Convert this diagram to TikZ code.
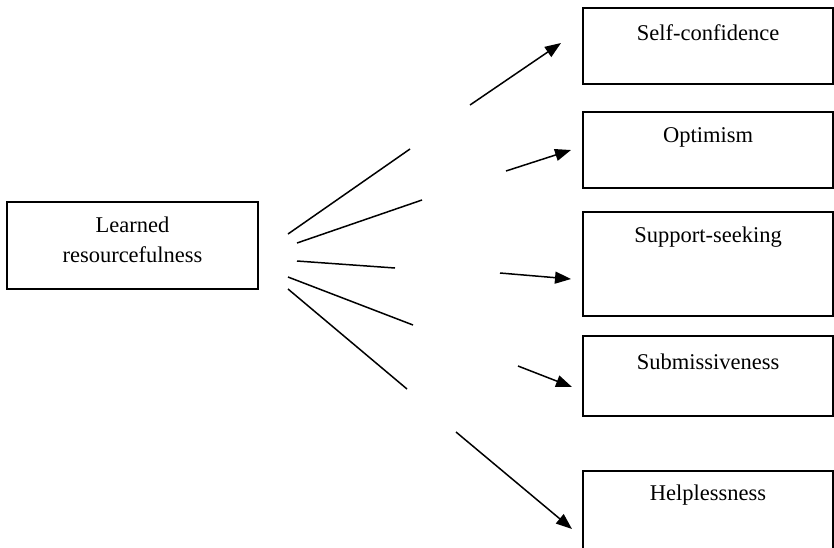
\documentclass[tikz,border=0pt]{standalone}
\usepackage{fontspec}
\setmainfont{Liberation Serif}
\usetikzlibrary{arrows.meta}
\tikzset{
  box/.style={draw, line width=1.3pt, minimum width=250pt, inner sep=0pt, outer sep=0pt},
  lbl/.style={anchor=center, font=\fontsize{22.5}{30}\selectfont, inner sep=0pt, align=center},
  seg/.style={line width=1.5pt},
  arr/.style={line width=1.5pt, -{Triangle[length=16pt,width=12pt]}}
}
\begin{document}
\begin{tikzpicture}[x=1pt,y=-1pt]
\useasboundingbox (0,0) rectangle (834,547);
\clip (0,0) rectangle (834,547);
% left box
\node[box, minimum width=251pt, minimum height=87pt] (lr) at (132.5,245.5) {};
\node[lbl] (lrt) at (132.5,240) {Learned\\resourcefulness};
% right boxes
\node[box, minimum height=76pt] (sc) at (708,46) {};
\node[lbl] (sct) at (708,33) {Self-confidence};
\node[box, minimum height=76pt] (op) at (708,150) {};
\node[lbl] (opt) at (708,137) {Optimism};
\node[box, minimum height=104pt] (ss) at (708,264) {};
\node[lbl] (sst) at (708,237) {Support-seeking};
\node[box, minimum height=80pt] (sb) at (708,376) {};
\node[lbl] (sbt) at (708,362) {Submissiveness};
\node[box, minimum height=100pt] (hp) at (708,521) {};
\node[lbl] (hpt) at (708,495) {Helplessness};
% connector end points
\coordinate (a1s) at (288,234); \coordinate (a1e) at (410,149);
\coordinate (b1s) at (470,105); \coordinate (b1e) at (561,43);
\coordinate (a2s) at (297,243); \coordinate (a2e) at (422,200);
\coordinate (b2s) at (506,171); \coordinate (b2e) at (571,150);
\coordinate (a3s) at (297,261); \coordinate (a3e) at (395,268);
\coordinate (b3s) at (500,273); \coordinate (b3e) at (571,279);
\coordinate (a4s) at (288,277); \coordinate (a4e) at (413,325);
\coordinate (b4s) at (518,366); \coordinate (b4e) at (572,387);
\coordinate (a5s) at (288,289); \coordinate (a5e) at (407,389);
\coordinate (b5s) at (456,432); \coordinate (b5e) at (572,529);
% connectors
\draw[seg] (a1s) -- (a1e); \draw[arr] (b1s) -- (b1e);
\draw[seg] (a2s) -- (a2e); \draw[arr] (b2s) -- (b2e);
\draw[seg] (a3s) -- (a3e); \draw[arr] (b3s) -- (b3e);
\draw[seg] (a4s) -- (a4e); \draw[arr] (b4s) -- (b4e);
\draw[seg] (a5s) -- (a5e); \draw[arr] (b5s) -- (b5e);
\end{tikzpicture}
\end{document}
